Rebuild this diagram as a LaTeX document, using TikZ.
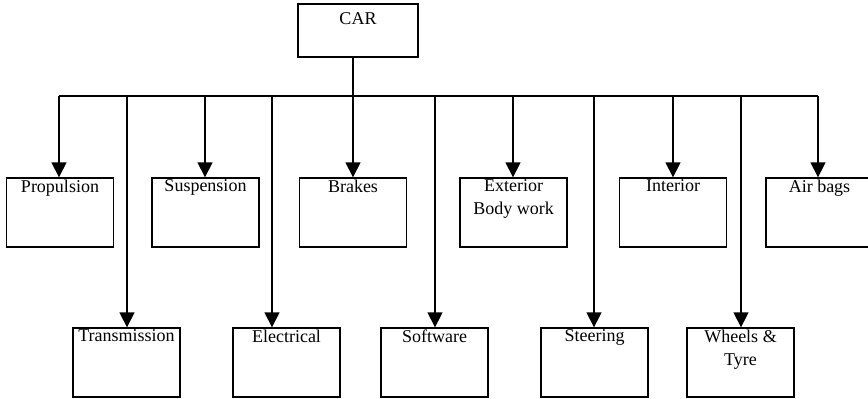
\documentclass[tikz,border=0pt]{standalone}
\usepackage{fontspec}
\setmainfont{Liberation Serif}
\usetikzlibrary{arrows.meta}
\begin{document}
\begin{tikzpicture}[x=1pt,y=-1pt,
  part/.style={draw,line width=1.3pt,minimum width=107pt,minimum height=69pt,inner sep=0pt},
  lbl/.style={anchor=north,inner sep=0pt,align=center,font=\fontsize{18}{23}\selectfont},
  link/.style={line width=1.3pt},
  arr/.style={line width=1.3pt,-{Triangle[width=15pt,length=15pt]}}]
\useasboundingbox (0,0) rectangle (868,399);
\clip (0,0) rectangle (868,399);

% root
\node[draw,line width=1.3pt,minimum width=120pt,minimum height=53pt] (car) at (358,30.5) {};
\node[anchor=base,inner sep=0pt,font=\fontsize{18}{23}\selectfont] (carT) at ([yshift=-21pt]car.north) {CAR};

% first row of parts
\node[part] (prop)    at (60,212.5)    {};
\node[part] (susp)    at (205.5,212.5) {};
\node[part] (brakes)  at (353,212.5)   {};
\node[part] (ext)     at (513.5,212.5) {};
\node[part] (inter)   at (673,212.5)   {};
\node[part] (airbags) at (819.5,212.5) {};

% second row of parts
\node[part] (trans)  at (126.5,362.5) {};
\node[part] (elec)   at (286.5,362.5) {};
\node[part] (soft)   at (434.5,362.5) {};
\node[part] (steer)  at (594.5,362.5) {};
\node[part] (wheels) at (740.5,362.5) {};

% labels
\node[lbl] (propT)    at ([yshift=-2.3pt]prop.north)    {Propulsion};
\node[lbl] (suspT)    at ([yshift=-2.3pt]susp.north)    {Suspension};
\node[lbl] (brakesT)  at ([yshift=-2.3pt]brakes.north)  {Brakes};
\node[lbl] (extT)     at ([yshift=-2.3pt]ext.north)     {Exterior\\Body work};
\node[lbl] (interT)   at ([yshift=-2.3pt]inter.north)   {Interior};
\node[lbl] (airbagsT) at ([yshift=-2.3pt]airbags.north) {Air bags};
\node[lbl] (transT)   at ([yshift=-2.3pt]trans.north)   {Transmission};
\node[lbl] (elecT)    at ([yshift=-2.3pt]elec.north)    {Electrical};
\node[lbl] (softT)    at ([yshift=-2.3pt]soft.north)    {Software};
\node[lbl] (steerT)   at ([yshift=-2.3pt]steer.north)   {Steering};
\node[lbl] (wheelsT)  at ([yshift=-2.3pt]wheels.north)  {Wheels \&\\Tyre};

% branch points on the distribution bar
\coordinate (bProp)    at (59,96);
\coordinate (bTrans)   at (127,96);
\coordinate (bSusp)    at (205,96);
\coordinate (bElec)    at (272,96);
\coordinate (bSoft)    at (435,96);
\coordinate (bExt)     at (513,96);
\coordinate (bSteer)   at (594,96);
\coordinate (bInter)   at (673,96);
\coordinate (bWheels)  at (741,96);
\coordinate (bAirbags) at (818,96);

% bar and stem
\draw[link] (bProp) -- (bAirbags);
\draw[arr] (brakes.north |- car.south) -- (brakes.north);

% branches
\draw[arr] (bProp)    -- (bProp    |- prop.north);
\draw[arr] (bSusp)    -- (bSusp    |- susp.north);
\draw[arr] (bExt)     -- (bExt     |- ext.north);
\draw[arr] (bInter)   -- (bInter   |- inter.north);
\draw[arr] (bAirbags) -- (bAirbags |- airbags.north);
\draw[arr] (bTrans)   -- (bTrans   |- trans.north);
\draw[arr] (bElec)    -- (bElec    |- elec.north);
\draw[arr] (bSoft)    -- (bSoft    |- soft.north);
\draw[arr] (bSteer)   -- (bSteer   |- steer.north);
\draw[arr] (bWheels)  -- (bWheels  |- wheels.north);
\end{tikzpicture}
\end{document}
